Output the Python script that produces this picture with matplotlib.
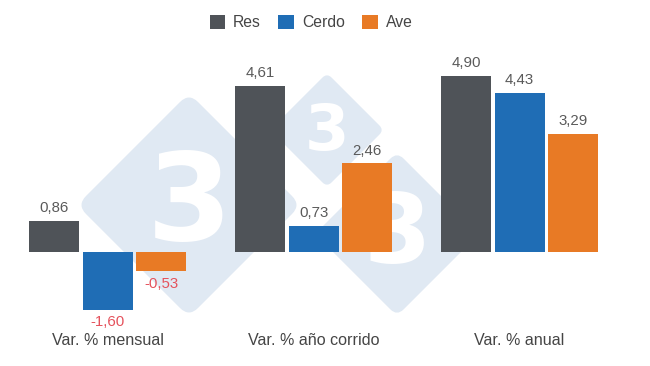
import matplotlib
matplotlib.use("Agg")
import matplotlib.pyplot as plt
from matplotlib.patches import FancyBboxPatch, Patch
from matplotlib.transforms import Affine2D
import numpy as np

plt.rcParams['font.family'] = ['Liberation Sans', 'DejaVu Sans']

categories = ["Var. % mensual", "Var. % año corrido", "Var. % anual"]
series_names = ["Res", "Cerdo", "Ave"]
res = [0.86, 4.61, 4.90]
cerdo = [-1.60, 0.73, 4.43]
ave = [-0.53, 2.46, 3.29]
colors = ["#4f5358", "#1f6db5", "#e87a25"]

W, H = 650, 366
fig = plt.figure(figsize=(W / 100, H / 100), dpi=100)

# watermark background (pixel coordinates)
bg = fig.add_axes([0, 0, 1, 1], zorder=0)
bg.set_xlim(0, W)
bg.set_ylim(H, 0)
bg.axis("off")
wm_color = "#e0e9f3"
for cx, cy, hd, fs in [(189, 205, 112, 88), (327, 130, 57, 46), (397, 234, 82, 70)]:
    s = hd * np.sqrt(2)
    p = FancyBboxPatch((-s / 2, -s / 2), s, s,
                       boxstyle=f"round,pad=0,rounding_size={s*0.08}",
                       facecolor=wm_color, edgecolor="none",
                       transform=Affine2D().rotate_deg(45).translate(cx, cy) + bg.transData)
    bg.add_patch(p)
    bg.text(cx, cy + 2, "3", fontsize=fs, fontweight="bold", color="white",
            ha="center", va="center", family="DejaVu Sans")

# main axes
top_px, bot_px, base_px, ppu = 40, 325, 252, 36.0
ax = fig.add_axes([0, (H - bot_px) / H, 1, (bot_px - top_px) / H], zorder=1)
ax.patch.set_visible(False)
ax.set_xlim(-107.5 / 206, (W - 107.5) / 206)
ax.set_ylim(-(bot_px - base_px) / ppu, (base_px - top_px) / ppu)

x = np.arange(len(categories))
bw = 50 / 206
off = 53.5 / 206
handles = []
for i, (vals, name, c) in enumerate(zip([res, cerdo, ave], series_names, colors)):
    bars = ax.bar(x + (i - 1) * off, vals, width=bw, color=c, label=name)
    labels = [f"{v:.2f}".replace(".", ",") for v in vals]
    texts = ax.bar_label(bars, labels=labels, padding=4, fontsize=10.8, color="#5a5a5a")
    for t, v in zip(texts, vals):
        if v < 0:
            t.set_color("#e5525c")
    handles.append(Patch(facecolor=c, label=name))

ax.set_xticks(x)
ax.set_xticklabels(categories, fontsize=11.6, color="#454545")
ax.tick_params(axis="x", length=0, pad=6)
ax.set_yticks([])
for sp in ax.spines.values():
    sp.set_visible(False)

fig.legend(handles=handles, loc="center", bbox_to_anchor=(311 / W, 1 - 22.5 / H),
           ncol=3, frameon=False, fontsize=11.3, handlelength=1.0, handleheight=1.0,
           handletextpad=0.5, columnspacing=1.1, labelcolor="#454545")

fig.savefig("out.png", dpi=100)
